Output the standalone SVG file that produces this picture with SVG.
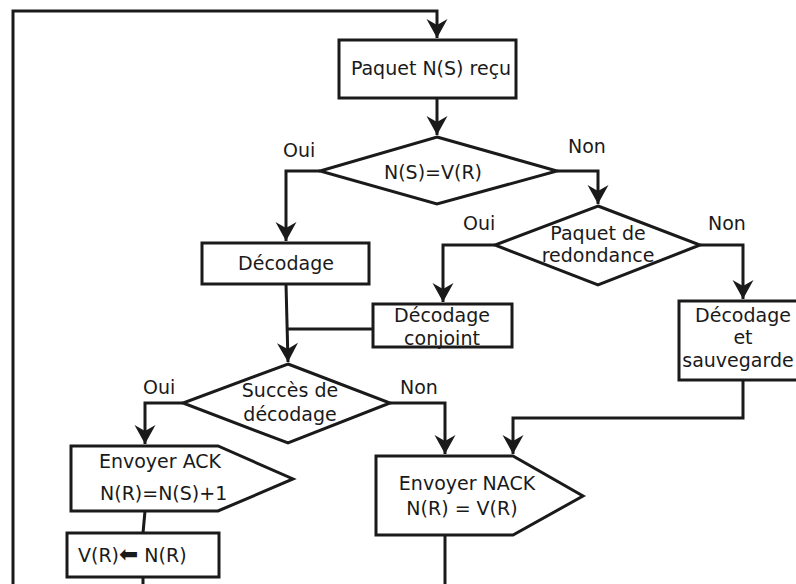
<svg xmlns="http://www.w3.org/2000/svg" width="796" height="584" viewBox="0 0 796 584">
<defs>
<marker id="ah" markerUnits="userSpaceOnUse" markerWidth="24" markerHeight="24" viewBox="-20 -12 22 24" refX="0" refY="0" orient="auto">
<path d="M0,0 L-19,-10.5 L-13,0 L-19,10.5 Z" fill="#1a1a1a"/>
</marker>
<style>
.s{fill:#fff;stroke:#1a1a1a;stroke-width:3}
.c{fill:none;stroke:#1a1a1a;stroke-width:3}
.a{marker-end:url(#ah)}
text{font-family:"DejaVu Sans",sans-serif;font-size:19px;fill:#1a1a1a}
.m{text-anchor:middle}
.b{font-size:23px}
</style>
</defs>
<rect width="796" height="584" fill="#fff"/>
<g id="connectors">
<path class="c a" d="M13,584 V11 H437 V38"/>
<path class="c a" d="M437,98 V135"/>
<path class="c a" d="M320,171 H286 V241"/>
<path class="c a" d="M557,171 H598 V204"/>
<path class="c a" d="M495,245 H443 V302"/>
<path class="c a" d="M700,245 H743 V299"/>
<path class="c a" d="M286,284 L288,362"/>
<path class="c" d="M373,329 H287"/>
<path class="c a" d="M743,380 V418 H513 V454"/>
<path class="c a" d="M183,403 H145 V444"/>
<path class="c a" d="M390,403 H445 V454"/>
<path class="c" d="M145,511 L143,533"/>
<path class="c" d="M143,577 V584"/>
<path class="c" d="M445,535 V584"/>
</g>
<g id="n_paquet">
<rect class="s" x="339" y="40" width="177" height="58"/>
<text class="m" x="431" y="75">Paquet N(S) reçu</text>
</g>
<g id="n_d1">
<path class="s" d="M437,137 L557,171 L437,204 L320,171 Z"/>
<text class="m" x="433" y="179">N(S)=V(R)</text>
</g>
<g id="l_oui1"><text x="283" y="157">Oui</text></g>
<g id="l_non1"><text x="568" y="153">Non</text></g>
<g id="n_d2">
<path class="s" d="M598,206 L700,245 L598,285 L495,245 Z"/>
<text class="m" x="598" y="240">Paquet de</text>
<text class="m" x="598" y="262">redondance</text>
</g>
<g id="l_oui2"><text x="463" y="230">Oui</text></g>
<g id="l_non2"><text x="708" y="230">Non</text></g>
<g id="n_decodage">
<rect class="s" x="202" y="243" width="167" height="41"/>
<text class="m" x="286" y="270">Décodage</text>
</g>
<g id="n_conjoint">
<rect class="s" x="373" y="304" width="139" height="43"/>
<text class="m" x="442" y="322">Décodage</text>
<text class="m" x="442" y="345">conjoint</text>
</g>
<g id="n_sauvegarde">
<rect class="s" x="679" y="301" width="130" height="79"/>
<text class="m" x="743" y="322">Décodage</text>
<text class="m" x="743" y="344">et</text>
<text class="m" x="738" y="367">sauvegarde</text>
</g>
<g id="n_d3">
<path class="s" d="M288,364 L390,403 L288,443 L183,403 Z"/>
<text class="m" x="290" y="397">Succès de</text>
<text class="m" x="290" y="421">décodage</text>
</g>
<g id="l_oui3"><text x="143" y="394">Oui</text></g>
<g id="l_non3"><text x="400" y="394">Non</text></g>
<g id="n_ack">
<path class="s" d="M71,446 H218 L293,479 L218,511 H71 Z"/>
<text class="m" x="160" y="468">Envoyer ACK</text>
<text x="100" y="500">N(R)=N(S)+1</text>
</g>
<g id="n_vr">
<rect class="s" x="67" y="533" width="152" height="44"/>
<text x="78" y="562">V(R)<tspan class="b">⬅</tspan> N(R)</text>
</g>
<g id="n_nack">
<path class="s" d="M376,456 H513 L583,496 L513,535 H376 Z"/>
<text class="m" x="467" y="490">Envoyer NACK</text>
<text class="m" x="462" y="515">N(R) = V(R)</text>
</g>
</svg>
